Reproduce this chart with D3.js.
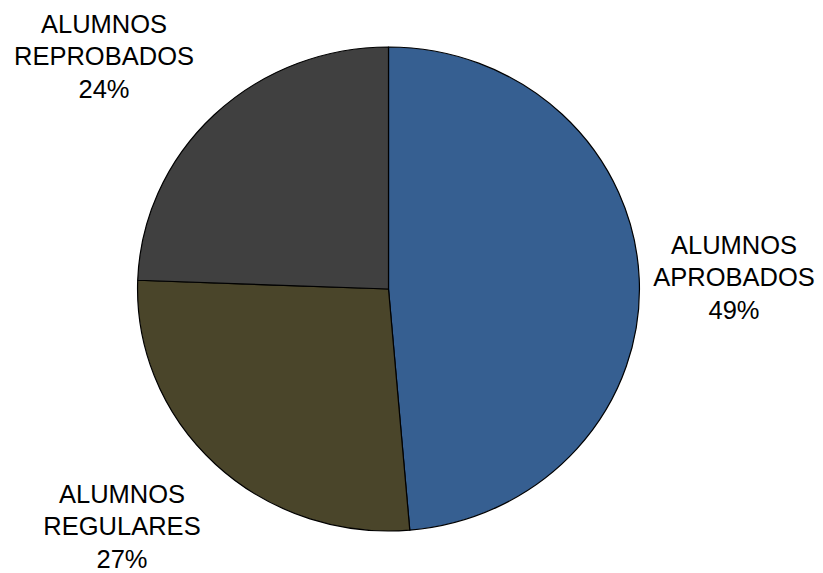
<!DOCTYPE html>
<html>
<head>
<meta charset="utf-8">
<script src="https://cdn.jsdelivr.net/npm/d3@7"></script>
<style>
  html, body { margin: 0; padding: 0; background: #ffffff; }
  svg { display: block; }
</style>
</head>
<body>
<svg id="chart" width="823" height="573"></svg>
<script>
// ---- data ----
const categories = ["ALUMNOS APROBADOS", "ALUMNOS REGULARES", "ALUMNOS REPROBADOS"];
const labelLines = [["ALUMNOS", "APROBADOS"], ["ALUMNOS", "REGULARES"], ["ALUMNOS", "REPROBADOS"]];
const values = [48.6, 26.9, 24.4];
const colors = ["#365F91", "#4A452A", "#404040"];

// ---- layout ----
const width = 823, height = 573;
const cx = 388.5, cy = 289;
const radius = 242;
const stretchX = 1.037;
const labelPos = [[734, 286], [122, 535], [104, 65]]; // middle-line baseline anchors
const lineGap = 32.5;

const svg = d3.select("#chart");
const total = d3.sum(values);

const pie = d3.pie().sort(null).value(d => d)(values);
const arc = d3.arc().innerRadius(0).outerRadius(radius);

const g = svg.append("g")
  .attr("transform", `translate(${cx},${cy}) scale(${stretchX},1)`);

g.selectAll("path")
  .data(pie)
  .join("path")
  .attr("d", arc)
  .attr("fill", (d, i) => colors[i])
  .attr("stroke", "#000000")
  .attr("stroke-width", 1.2)
  .attr("vector-effect", "non-scaling-stroke")
  .attr("stroke-linejoin", "round");

const labels = svg.append("g")
  .attr("font-family", "Arial, 'Liberation Sans', sans-serif")
  .attr("font-size", 25.5)
  .attr("fill", "#000000")
  .attr("text-anchor", "middle");

pie.forEach((d, i) => {
  const [x, y] = labelPos[i];
  const lines = [...labelLines[i], Math.round(values[i] / total * 100) + "%"];
  const t = labels.append("text");
  lines.forEach((ln, j) => {
    t.append("tspan")
      .attr("x", x)
      .attr("y", y + (j - 1) * lineGap)
      .text(ln);
  });
});
</script>
</body>
</html>
